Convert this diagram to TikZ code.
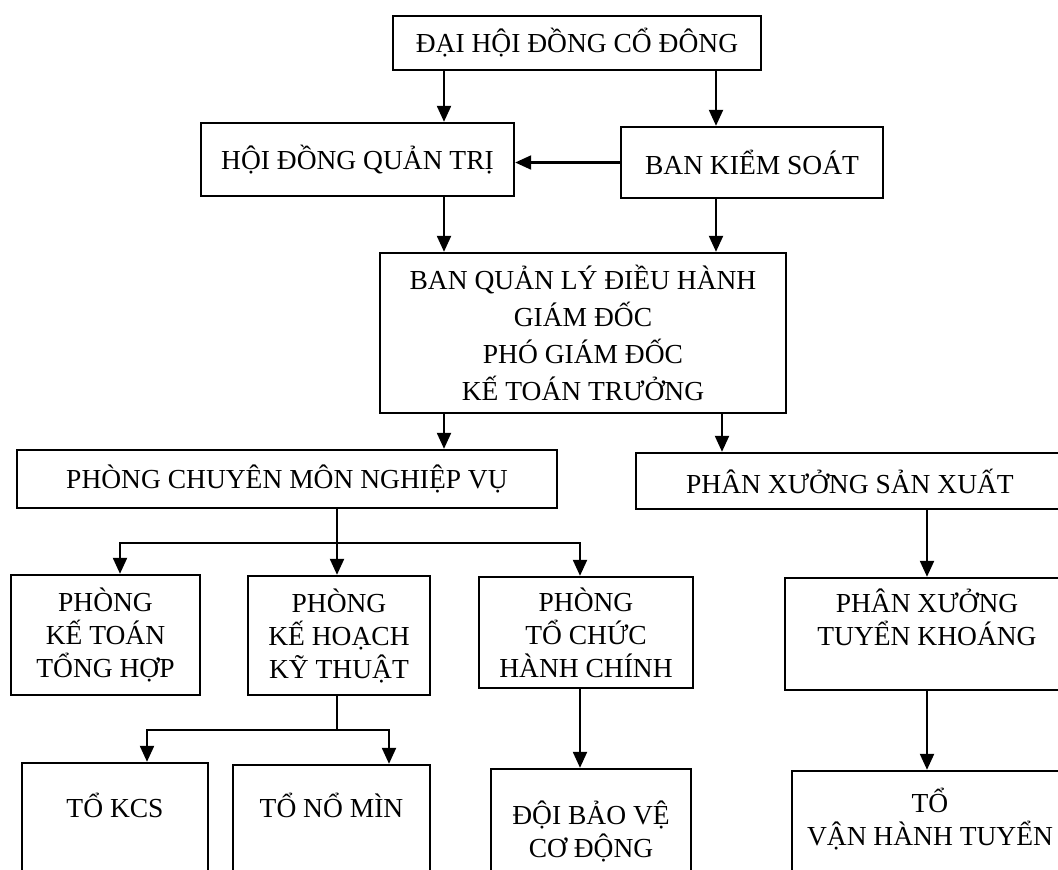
\documentclass[tikz,border=0pt]{standalone}
\usepackage{fontspec}
\setmainfont{Liberation Serif}
\usetikzlibrary{arrows.meta}

\begin{document}
\begin{tikzpicture}[
		x=0.5pt, y=-0.5pt,
		every node/.style={anchor=center, font=\fontsize{13.75}{16.5}\selectfont, inner sep=2pt, align=center},
		unit/.style={draw, line width=1.2pt},
		link/.style={-{Triangle[length=8pt,width=7pt]}, line width=1.1pt},
		bus/.style={line width=1.1pt}
		]
		
		\path[use as bounding box, fill=white] (0,0) rectangle (1058,869);
		
		\node[unit, minimum width=184pt, minimum height=27pt] (dhdcd) at (577,43) {ĐẠI HỘI ĐỒNG CỔ ĐÔNG};
		\node[unit, minimum width=156.5pt, minimum height=36.5pt] (hdqt) at (357.5,159.5) {HỘI ĐỒNG QUẢN TRỊ};
		\node[unit, minimum width=131pt, minimum height=35.5pt] (bks) at (752,162.5) {BAN KIỂM SOÁT};
		\node[unit, minimum width=203pt, minimum height=80pt, font=\fontsize{13.75}{18.5}\selectfont] (bql) at (583,333)
			{BAN QUẢN LÝ ĐIỀU HÀNH\\ GIÁM ĐỐC\\ PHÓ GIÁM ĐỐC\\ KẾ TOÁN TRƯỞNG};
		\node[unit, minimum width=270pt, minimum height=29pt] (pcm) at (287,479) {PHÒNG CHUYÊN MÔN NGHIỆP VỤ};
		\node[unit, minimum width=214pt, minimum height=28pt] (pxsx) at (850,481) {PHÂN XƯỞNG SẢN XUẤT};
		
		\node[unit, minimum width=94.5pt, minimum height=60pt] (pkt) at (105.5,635) {PHÒNG\\ KẾ TOÁN\\ TỔNG HỢP};
		\node[unit, minimum width=91pt, minimum height=59.5pt] (pkh) at (339,635.5) {PHÒNG\\ KẾ HOẠCH\\ KỸ THUẬT};
		\node[unit, minimum width=107pt, minimum height=55.5pt] (ptc) at (586,632.5) {PHÒNG\\ TỔ CHỨC\\ HÀNH CHÍNH};
		\node[unit, minimum width=142pt, minimum height=56pt] (pxtk) at (927,634) {PHÂN XƯỞNG\\ TUYỂN KHOÁNG\\ \mbox{}};
		
		\node[unit, minimum width=93pt, minimum height=75pt] (tkcs) at (115,838) {TỔ KCS\\ \mbox{}\\ \mbox{}};
		\node[unit, minimum width=98.5pt, minimum height=73pt] (tnm) at (331.5,838) {TỔ NỔ MÌN\\ \mbox{}\\ \mbox{}};
		\node[unit, minimum width=100pt, minimum height=77pt] (dbv) at (591,846) {ĐỘI BẢO VỆ\\ CƠ ĐỘNG\\ \mbox{}};
		\node[unit, minimum width=138pt, minimum height=62pt] (tvht) at (930,833) {TỔ\\ VẬN HÀNH TUYỂN\\ \mbox{}};
		
		\coordinate (xa) at (444,0);
		\coordinate (xb) at (716,0);
		\coordinate (xc) at (722,0);
		\coordinate (b1) at (120,543);
		\coordinate (b2) at (337,543);
		\coordinate (b3) at (580,543);
		\coordinate (k1) at (147,730);
		\coordinate (k2) at (337,730);
		\coordinate (k3) at (389,730);
		
		\draw[link] (dhdcd.south -| xa) -- (hdqt.north -| xa);
		\draw[link] (dhdcd.south -| xb) -- (bks.north -| xb);
		\draw[link] (bks.west) -- (bks.west -| hdqt.east);
		\draw[link] (hdqt.south -| xa) -- (bql.north -| xa);
		\draw[link] (bks.south -| xb) -- (bql.north -| xb);
		\draw[link] (bql.south -| xa) -- (pcm.north -| xa);
		\draw[link] (bql.south -| xc) -- (pxsx.north -| xc);
		
		\draw[bus] (pcm.south -| b2) -- (b2);
		\draw[link] (b2) -| (pkt.north -| b1);
		\draw[link] (b2) -- (pkh.north -| b2);
		\draw[link] (b2) -| (ptc.north -| b3);
		\draw[link] (pxsx.south -| pxtk.north) -- (pxtk.north);
		
		\draw[bus] (pkh.south -| k2) -- (k2);
		\draw[link] (k2) -| (tkcs.north -| k1);
		\draw[link] (k2) -| (tnm.north -| k3);
		\draw[link] (ptc.south -| b3) -- (dbv.north -| b3);
		\draw[link] (pxtk.south) -- (tvht.north -| pxtk.south);
		
\end{tikzpicture}
\end{document}
